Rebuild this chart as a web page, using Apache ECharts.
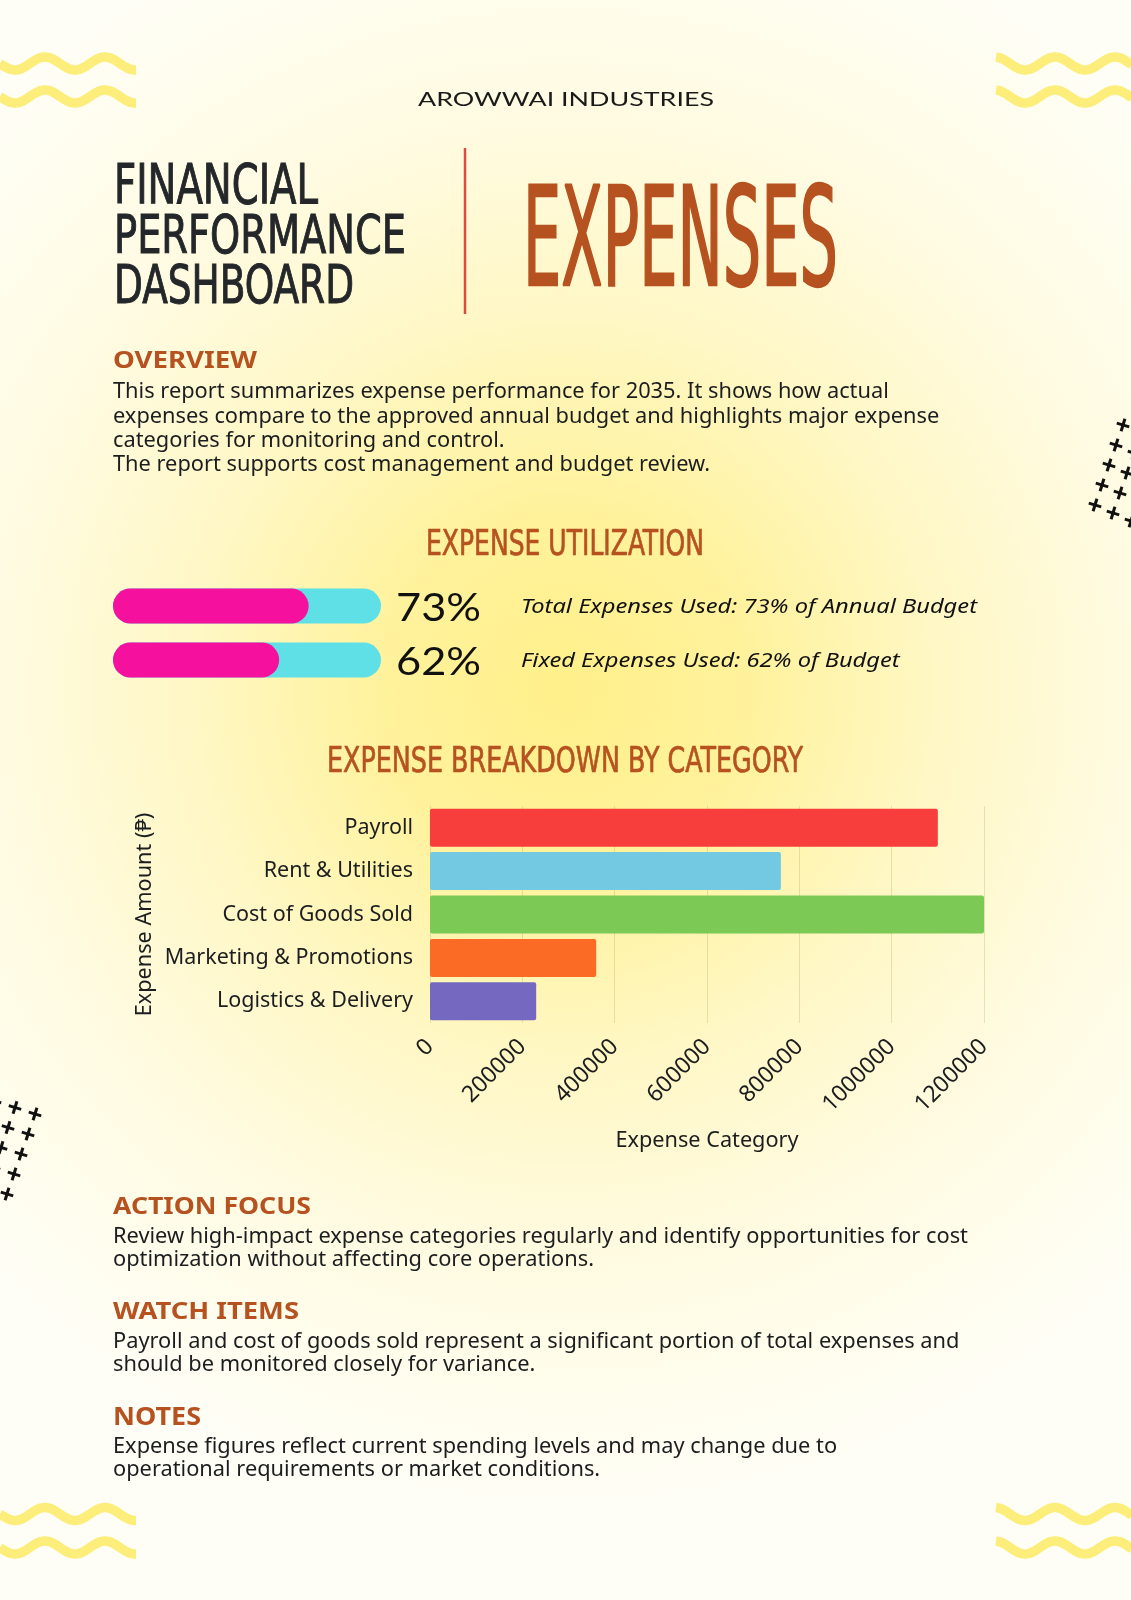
<!DOCTYPE html>
<html>
<head>
<meta charset="utf-8">
<title>Financial Performance Dashboard - Expenses</title>
<script src="https://cdn.jsdelivr.net/npm/echarts@6/dist/echarts.min.js"></script>
<style>
  html, body { margin: 0; padding: 0; background: #fffdf2; }
  #chart { width: 1131px; height: 1600px; }
</style>
</head>
<body>
<div id="chart"></div>
<script>
// ---- data ----
const categories = ["Payroll", "Rent & Utilities", "Cost of Goods Sold", "Marketing & Promotions", "Logistics & Delivery"];
const expenseValues = [1100000, 760000, 1200000, 360000, 230000];
const barColors = ["#f83d3d", "#72c9e1", "#7cca55", "#fb6b26", "#7468c0"];
const valueMax = 1200000;
const valueStep = 200000;

const utilNames = ["Total Expenses Used", "Fixed Expenses Used"];
const utilTails = ["of Annual Budget", "of Budget"];
const utilValues = [73, 62];

const overviewLines = [
  "This report summarizes expense performance for 2035. It shows how actual",
  "expenses compare to the approved annual budget and highlights major expense",
  "categories for monitoring and control.",
  "The report supports cost management and budget review."
];
const actionLines = [
  "Review high-impact expense categories regularly and identify opportunities for cost",
  "optimization without affecting core operations."
];
const watchLines = [
  "Payroll and cost of goods sold represent a significant portion of total expenses and",
  "should be monitored closely for variance."
];
const notesLines = [
  "Expense figures reflect current spending levels and may change due to",
  "operational requirements or market conditions."
];

// ---- styles ----
const RUST = "#b6521f";
const INK = "#1b1d1f";
const CONDENSED = '"Liberation Sans Narrow", "DejaVu Sans Condensed", "Liberation Sans", sans-serif';
const BODY = '"Noto Sans", "Open Sans", sans-serif';

let chartDom = document.getElementById("chart");
let myChart = echarts.init(chartDom, null, { renderer: "canvas" });

// measure text so headings can be stretched to the reference box
const measureCtx = document.createElement("canvas").getContext("2d");
function capBox(text, font) {
  measureCtx.font = font;
  measureCtx.textBaseline = "middle";
  let h = measureCtx.measureText("H");
  return {
    w: measureCtx.measureText(text).width,
    asc: h.actualBoundingBoxAscent,
    desc: h.actualBoundingBoxDescent,
  };
}

// text placed by its cap top / baseline, squeezed to a width (or a given scaleX)
function capText(text, font, x, top, bottom, width, fill, align, fixedScaleX, strokeW) {
  align = align || "left";
  let b = capBox(text, font);
  let sy = (bottom - top) / (b.asc + b.desc);
  let style = {
    text: text,
    font: font,
    fill: fill,
    align: align,
    textAlign: align,
    verticalAlign: "middle",
    textVerticalAlign: "middle",
  };
  if (strokeW) {
    style.stroke = fill;
    style.lineWidth = strokeW;
  }
  return {
    type: "text",
    x: x,
    y: top + sy * b.asc,
    scaleX: fixedScaleX || width / b.w,
    scaleY: sy,
    style: style,
  };
}

function bodyText(lines, x, y, lineHeight) {
  return {
    type: "text",
    x: x,
    y: y,
    style: {
      text: lines.join("\n"),
      font: "21.8px " + BODY,
      fill: INK,
      lineHeight: lineHeight,
      align: "left",
      textAlign: "left",
      verticalAlign: "top",
      textVerticalAlign: "top",
    },
  };
}

// wavy decoration
function wave(x0, cy, crestX) {
  let pts = [];
  for (let x = x0; x <= x0 + 136; x += 2) {
    pts.push([x, cy - 6.5 * Math.cos((2 * Math.PI * (x - crestX)) / 60)]);
  }
  return {
    type: "polyline",
    shape: { points: pts },
    style: { stroke: "#fdee7b", lineWidth: 9.5, fill: null },
    z: 1,
  };
}

// grid of little plus signs
function pluses(ox, oy, rows, cols, cdx, cdy) {
  let out = [];
  for (let r = 0; r < rows; r++) {
    for (let c = 0; c < cols; c++) {
      out.push({
        type: "group",
        x: ox - 7 * r + cdx * c,
        y: oy + 20 * r + cdy * c,
        rotation: -0.3,
        children: [
          { type: "line", shape: { x1: -6.5, y1: 0, x2: 6.5, y2: 0 }, style: { stroke: "#111", lineWidth: 3 } },
          { type: "line", shape: { x1: 0, y1: -6.5, x2: 0, y2: 6.5 }, style: { stroke: "#111", lineWidth: 3 } },
        ],
      });
    }
  }
  return out;
}

// utilization grid layout
const utilTop = 579, utilBand = 54;

let graphics = [
  {
    type: "rect",
    z: -100,
    silent: true,
    shape: { x: 0, y: 0, width: 1131, height: 1600 },
    style: {
      fill: {
        type: "radial",
        x: 565, y: 690, r: 820,
        global: true,
        colorStops: [
          { offset: 0, color: "#fff08a" },
          { offset: 0.22, color: "#fff29c" },
          { offset: 0.45, color: "#fff7c4" },
          { offset: 0.7, color: "#fffbe2" },
          { offset: 1, color: "#fffef6" },
        ],
      },
    },
  },
  wave(0, 63.5, 45), wave(0, 96.5, 45),
  wave(996, 63.5, 1055), wave(996, 96.5, 1055),
  wave(0, 1514, 45), wave(0, 1547.5, 45),
  wave(996, 1514, 1055), wave(996, 1547.5, 1055),

  capText("AROWWAI INDUSTRIES", "20px Lato, " + BODY, 566, 92, 106, 296, "#1a1a1a", "center"),

  capText("FINANCIAL", "56px " + CONDENSED, 114, 164, 204, 204, "#23272a", "left", 0, 1),
  capText("PERFORMANCE", "56px " + CONDENSED, 114, 215, 254, 292, "#23272a", "left", 0, 1),
  capText("DASHBOARD", "56px " + CONDENSED, 114, 265, 304, 240, "#23272a", "left", 0, 1),
  {
    type: "line",
    shape: { x1: 465, y1: 148, x2: 465, y2: 314 },
    style: { stroke: "#de4a3c", lineWidth: 2.5 },
  },
  capText("EXPENSES", "142px " + CONDENSED, 523, 183, 285, 315, RUST, "left", 0, 2.5),

  capText("OVERVIEW", "bold 24px " + BODY, 113, 351, 368, 144, RUST),
  bodyText(overviewLines, 113, 380, 24.3),

  capText("EXPENSE UTILIZATION", "36px " + CONDENSED, 565, 529, 555, 278, RUST, "center", 0, 0.7),
  capText("EXPENSE BREAKDOWN BY CATEGORY", "36px " + CONDENSED, 565, 747, 772, 476, RUST, "center", 0, 0.7),

  capText("ACTION FOCUS", "bold 24px " + BODY, 113, 1197, 1214, 198, RUST),
  bodyText(actionLines, 113, 1225, 23.5),
  capText("WATCH ITEMS", "bold 24px " + BODY, 113, 1302, 1319, 186, RUST),
  bodyText(watchLines, 113, 1330, 23.5),
  capText("NOTES", "bold 24px " + BODY, 113, 1407, 1425, 88, RUST),
  bodyText(notesLines, 113, 1435, 23.5),
];

graphics = graphics.concat(pluses(1123, 425, 5, 3, 18, 8), pluses(-5, 1101, 5, 3, 20, 6.5));

// percentage + description next to each utilization bar
const pctFont = "42px Lato, " + BODY;
const descFont = "italic 21px " + BODY;
const pctScale = 85 / capBox(utilValues[0] + "%", pctFont).w;
const descScale = 456 / capBox(utilNames[0] + ": " + utilValues[0] + "% " + utilTails[0], descFont).w;
utilValues.forEach(function (v, i) {
  let cy = utilTop + utilBand * (i + 0.5);
  graphics.push(capText(v + "%", pctFont, 396, cy - 14.5, cy + 14.5, 0, "#111", "left", pctScale));
  graphics.push(capText(utilNames[i] + ": " + v + "% " + utilTails[i], descFont, 521, cy - 8, cy + 7, 0, "#111", "left", descScale));
});

var option = {
  backgroundColor: "#fffdf2",
  animation: false,
  graphic: { elements: graphics },
  grid: [
    { left: 430, width: 554, top: 806, height: 217 },
    { left: 113, width: 268, top: utilTop, height: utilBand * 2 },
  ],
  xAxis: [
    {
      gridIndex: 0,
      type: "value",
      min: 0,
      max: valueMax,
      interval: valueStep,
      name: "Expense Category",
      nameLocation: "middle",
      nameGap: 107,
      nameTextStyle: { fontFamily: "Noto Sans", fontSize: 21.7, color: INK },
      axisLine: { show: false },
      axisTick: { show: false },
      axisLabel: {
        rotate: 45,
        margin: 20,
        fontFamily: "Noto Sans",
        fontSize: 23,
        color: INK,
        formatter: function (v) { return String(v); },
      },
      splitLine: { show: true, lineStyle: { color: "rgba(150,130,60,0.22)", width: 1 } },
    },
    { gridIndex: 1, type: "value", min: 0, max: 100, show: false },
  ],
  yAxis: [
    {
      gridIndex: 0,
      type: "category",
      data: categories,
      inverse: true,
      name: "Expense Amount (\u20b1)",
      nameLocation: "middle",
      nameRotate: 90,
      nameGap: 274,
      nameTextStyle: { fontFamily: "Noto Sans", fontSize: 21.7, color: INK },
      axisLine: { show: false },
      axisTick: { show: false },
      axisLabel: { margin: 17, fontFamily: "Noto Sans", fontSize: 21.5, color: INK },
    },
    { gridIndex: 1, type: "category", data: utilNames, inverse: true, show: false },
  ],
  series: [
    {
      type: "bar",
      xAxisIndex: 0,
      yAxisIndex: 0,
      barWidth: 38,
      data: expenseValues.map(function (v, i) {
        return { value: v, itemStyle: { color: barColors[i] } };
      }),
      itemStyle: { borderRadius: 2 },
    },
    {
      type: "bar",
      xAxisIndex: 1,
      yAxisIndex: 1,
      barWidth: 35,
      data: utilValues,
      showBackground: true,
      backgroundStyle: { color: "#5ee0e6", borderRadius: 17.5 },
      itemStyle: { color: "#f5109e", borderRadius: 17.5 },
      z: 3,
    },
  ],
};
myChart.setOption(option);
</script>
</body>
</html>
